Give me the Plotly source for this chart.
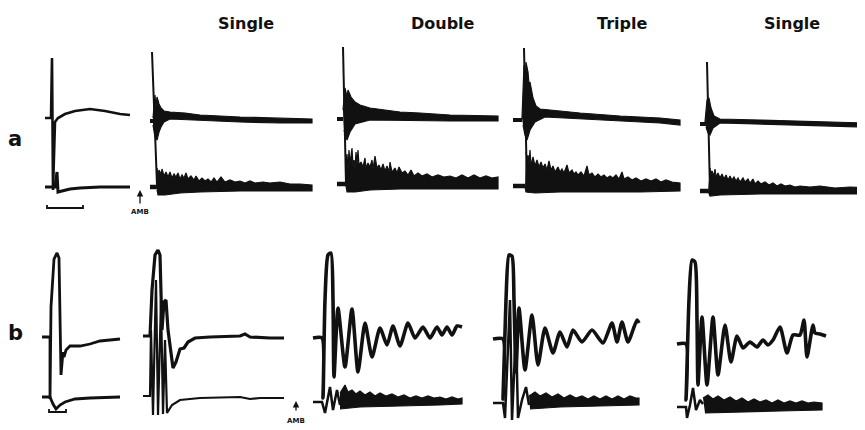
import plotly.graph_objects as go

# page places the figure 8 px from the window's top-left corner
PAGE_OFF = 8
W, H = 865 - PAGE_OFF, 430 - PAGE_OFF

# ---------------- data (time in sweep units from panel start, deflection in arbitrary units, + = up) ----
TITLES = ["Single", "Double", "Triple", "Single"]
ROW_LABELS = ["a", "b"]
ARROW_LABEL = "AMB"

# --- row a, panel 1 (control) ---
A1_UP = [(5, 0), (11, 0), (12, 60), (13, -72), (15, -4), (18, 0), (25, 4), (35, 7), (50, 9),
         (65, 7), (80, 4), (90, 3)]
A1_LO = [(5, 0), (15, 0), (17, 15), (18, -5), (22, -4), (30, -2), (40, -1), (60, 0), (90, 0)]
A1_BAR = [(7, -18), (7, -21), (43, -21), (43, -18)]

# --- row a, panel 2 (Single) ---
A2_TICK_UP = [(5, 0), (9, 0)]
A2_SPIKE = [(7, 69), (12, -64)]
A2_UP_TOP = [(8, 3), (10, 26), (11, 14), (12, 24), (14, 17), (16, 13), (19, 10), (25, 9), (40, 8), (55, 6),
             (95, 4), (135, 3), (167, 2)]
A2_UP_BOT = [(167, -2), (135, -2), (95, -1), (55, 1), (25, 2), (19, -1), (16, -6), (14, -11),
             (12, -19), (10, -16), (8, -4)]
A2_TICK_LO = [(5, 0), (12, 0)]
A2_LO_TOP = [(12, 19), (13, 12), (14, 17), (16, 13), (17, 18), (19, 11), (21, 15), (23, 10), (25, 15),
             (27, 9), (29, 13), (31, 10), (33, 14), (35, 8), (37, 12), (39, 9), (41, 14), (43, 8),
             (46, 11), (49, 7), (51, 11), (54, 6), (57, 9), (60, 6), (63, 8), (66, 5), (69, 9),
             (72, 5), (76, 10), (80, 5), (85, 7), (90, 5), (95, 6), (100, 4), (105, 6), (110, 4),
             (118, 5), (125, 4), (135, 5), (145, 3), (155, 3), (167, 2)]
A2_LO_BOT = [(167, -4), (135, -4), (95, -4), (55, -5), (35, -6), (20, -8), (13, -8), (12, -3)]

# --- row a, panel 3 (Double) ---
A3_TICK_UP = [(5, 0), (11, 0)]
A3_SPIKE = [(11, 72), (14, -65)]
A3_UP_TOP = [(11, 9), (13, 31), (15, 22), (16, 29), (19, 22), (23, 17), (28, 14), (38, 11), (53, 9),
             (68, 7), (88, 6), (118, 4), (166, 3)]
A3_UP_BOT = [(166, -2), (118, -2), (68, -1), (38, -1), (23, -5), (18, -13), (15, -21), (12, -11)]
A3_TICK_LO = [(5, 0), (14, 0)]
A3_LO_TOP = [(14, 24), (15, 30), (16, 14), (17, 34), (18, 20), (19, 28), (20, 36), (21, 18), (22, 24),
             (23, 16), (24, 32), (25, 20), (26, 34), (27, 19), (29, 22), (31, 17), (33, 26), (34, 16),
             (36, 21), (38, 17), (40, 24), (41, 15), (43, 28), (45, 16), (47, 19), (49, 14), (51, 20),
             (53, 13), (55, 18), (57, 12), (58, 22), (60, 12), (63, 16), (65, 11), (67, 17), (70, 11),
             (73, 13), (76, 9), (79, 14), (82, 8), (86, 11), (90, 8), (95, 10), (100, 7), (106, 9),
             (112, 7), (118, 8), (124, 6), (130, 9), (136, 6), (142, 9), (148, 6), (154, 8), (160, 6),
             (166, 7)]
A3_LO_BOT = [(166, -5), (118, -5), (68, -5), (38, -6), (23, -8), (15, -8), (14, -2)]

# --- row a, panel 4 (Triple) ---
A4_TICK_UP = [(5, 0), (14, 0)]
A4_SPIKE = [(16, 72), (19, -66)]
A4_UP_TOP = [(14, 2), (16, 55), (17, 40), (18, 58), (20, 48), (21, 36), (22, 38), (25, 22), (28, 14),
             (32, 11), (52, 9), (72, 7), (112, 4), (152, 2), (172, 0)]
A4_UP_BOT = [(172, -5), (152, -3), (112, -1), (72, 1), (37, 3), (27, -2), (22, -10), (19, -20),
             (17, -15), (15, -5)]
A4_TICK_LO = [(5, 0), (17, 0)]
A4_LO_TOP = [(18, 34), (19, 26), (20, 31), (21, 22), (22, 36), (23, 20), (25, 29), (27, 20), (29, 26),
             (31, 19), (33, 24), (35, 18), (37, 22), (39, 16), (41, 25), (43, 16), (45, 20), (47, 14),
             (50, 19), (52, 14), (54, 17), (56, 13), (59, 21), (61, 13), (64, 16), (66, 12), (68, 14),
             (70, 11), (73, 14), (76, 10), (79, 20), (81, 11), (84, 13), (87, 9), (90, 12), (93, 9),
             (96, 11), (99, 8), (102, 10), (105, 8), (108, 11), (111, 7), (114, 14), (116, 7),
             (120, 9), (124, 6), (128, 8), (133, 5), (138, 7), (143, 5), (148, 7), (153, 4), (158, 6),
             (164, 4), (172, 3)]
A4_LO_BOT = [(172, -5), (132, -6), (92, -6), (52, -6), (27, -7), (18, -6), (17, -1)]

# --- row a, panel 5 (Single) ---
A5_TICK_UP = [(5, 0), (11, 0)]
A5_SPIKE = [(12, 62), (15, -67)]
A5_UP_TOP = [(10, 2), (12, 24), (14, 26), (16, 16), (19, 8), (25, 5), (65, 4), (105, 3), (170, 1)]
A5_UP_BOT = [(170, -3), (105, -1), (65, 0), (25, 1), (18, -4), (15, -11), (13, -9), (11, -3)]
A5_TICK_LO = [(5, 0), (13, 0)]
A5_LO_TOP = [(15, 23), (16, 17), (17, 20), (19, 15), (20, 22), (21, 14), (23, 18), (25, 13), (27, 17),
             (29, 12), (31, 16), (33, 11), (35, 15), (37, 11), (39, 14), (41, 10), (43, 13), (45, 9),
             (48, 13), (50, 9), (53, 12), (55, 8), (58, 12), (60, 7), (63, 10), (66, 7), (70, 9),
             (74, 6), (78, 8), (82, 5), (86, 7), (90, 5), (95, 6), (100, 4), (105, 5), (115, 4),
             (125, 5), (140, 3), (155, 4), (170, 3)]
A5_LO_BOT = [(170, -3), (125, -3), (65, -3), (25, -4), (15, -5), (13, 0)]

# --- row b, panel 1 (control) ---
B1_UP = [(4, 0), (12, 0), (12, -62), (13, 30), (16, 78), (19, 84), (21, 79), (22, 30), (23, -38),
         (25, -15), (26, -20), (28, -13), (32, -9), (42, -9), (52, -7), (62, -4), (72, -3), (82, -2)]
B1_LO = [(4, 0), (12, 0), (15, -7), (18, -12), (20, -10), (22, -8), (27, -5), (37, -2), (52, -1),
         (82, 0)]
B1_BAR = [(11, -12), (11, -15), (28, -15), (28, -12)]

# --- row b, panel 2 (Single) ---
B2_UP = [(3, 0), (10, 0), (12, 46), (15, 81), (18, 86), (20, 81), (22, 6), (24, 34), (26, 36), (28, 6),
         (33, -32), (36, -26), (40, -13), (44, -12), (48, -6), (55, -2), (70, -1), (100, 0), (105, 2),
         (110, -1), (130, -2), (144, -2)]
B2_LO = [(3, 0), (10, 0), (11, 66), (13, -19), (16, 116), (18, -19), (21, 96), (23, -18), (25, 56),
         (27, -17), (32, -9), (40, -4), (60, -2), (100, -1), (110, -3), (120, -2), (144, -2)]

# --- row b, panel 3 (Double) ---
B3_UP = [(3, 0), (12, 0), (13, -60), (15, 38), (18, 83), (21, 85), (23, 38), (24, -39), (28, 30),
         (35, -29), (42, 29), (48, -34), (55, 15), (62, -19), (70, 10), (77, -7), (83, 12), (90, -8),
         (98, 15), (105, 0), (113, 11), (120, 0), (127, 11), (132, 3), (137, 11), (142, 3), (147, 12),
         (152, 11)]
B3_LO = [(3, 0), (12, 0), (15, -11), (20, 15), (23, -8), (27, 12), (30, -3)]
B3_LO_TOP = [(30, 9), (35, 17), (38, 10), (42, 12), (46, 8), (50, 11), (55, 7), (60, 10), (65, 6),
             (70, 9), (76, 6), (82, 8), (88, 5), (94, 7), (100, 4), (106, 6), (112, 4), (118, 6),
             (124, 4), (130, 5), (136, 3), (142, 5), (148, 3), (152, 4)]
B3_LO_BOT = [(152, -2), (130, -3), (90, -4), (50, -5), (30, -7)]

# --- row b, panel 4 (Triple) ---
B4_UP = [(3, 0), (13, 0), (13, -60), (16, 39), (19, 84), (22, 83), (24, 39), (26, -33), (29, 31),
         (35, -31), (42, 24), (48, -26), (55, 11), (63, -14), (70, 7), (77, -8), (83, 9), (92, -3),
         (102, 9), (113, -4), (122, 16), (127, -3), (132, 17), (138, -3), (147, 19), (149, 16)]
B4_LO = [(3, 0), (13, 0), (15, -15), (20, 103), (22, -17), (26, 73), (28, -15), (32, 3), (36, 16),
         (39, -2)]
B4_LO_TOP = [(39, 7), (45, 11), (50, 7), (56, 10), (62, 6), (68, 9), (74, 5), (80, 8), (86, 5), (92, 7),
             (98, 4), (104, 7), (110, 4), (116, 7), (122, 4), (128, 7), (134, 4), (140, 7), (146, 5),
             (149, 5)]
B4_LO_BOT = [(149, -2), (110, -3), (70, -4), (40, -6)]

# --- row b, panel 5 (Single) ---
B5_UP = [(3, 0), (12, 0), (12, -56), (15, 44), (18, 84), (21, 82), (23, 24), (24, -41), (28, 27),
         (33, -41), (39, 27), (44, -31), (51, 19), (57, -18), (63, 8), (69, -4), (76, 2), (83, -3),
         (89, 4), (94, -1), (99, 4), (106, 17), (113, -9), (119, 9), (126, 9), (130, 24), (133, -13),
         (139, 19), (141, 11), (146, 10), (152, 8)]
B5_LO = [(3, 0), (12, 0), (13, -11), (16, 2), (19, 19), (22, -3), (26, 7), (29, 3)]
B5_LO_TOP = [(29, 9), (34, 12), (39, 8), (44, 11), (50, 7), (56, 10), (62, 6), (68, 9), (74, 5), (80, 8),
             (86, 5), (92, 7), (98, 4), (104, 7), (110, 4), (116, 6), (122, 4), (128, 6), (134, 4),
             (140, 5), (148, 4)]
B5_LO_BOT = [(148, -3), (106, -4), (66, -5), (31, -6)]

# ---------------- layout geometry (window pixels): left, right, top, bottom, upper baseline, lower baseline
FRAMES = [
    (40, 135, 40, 215, 118, 187),
    (145, 315, 40, 215, 121, 187),
    (332, 502, 40, 215, 119, 184),
    (508, 685, 40, 215, 120, 186),
    (695, 865, 40, 215, 124, 191),
    (38, 125, 240, 425, 337, 397),
    (140, 290, 240, 425, 336, 396),
    (310, 467, 240, 425, 338, 402),
    (490, 645, 240, 425, 339, 403),
    (674, 830, 240, 425, 344, 407),
]
TITLE_X = [246, 443, 622, 792]
TITLE_Y = 24
ROW_LABEL_POS = [(15, 139), (15, 333)]

INK = "#111111"


def px(x):
    return (x - PAGE_OFF) / W


def py(y):
    return 1 - (y - PAGE_OFF) / H


fig = go.Figure()


def axis_names(panel, channel):
    xi = panel + 1
    yi = 2 * panel + 1 + channel
    return ("x" if xi == 1 else f"x{xi}"), ("y" if yi == 1 else f"y{yi}")


def add_line(panel, channel, pts, width=3.0, shape="linear"):
    xa, ya = axis_names(panel, channel)
    fig.add_trace(go.Scatter(x=[p[0] for p in pts], y=[p[1] for p in pts], mode="lines",
                             line=dict(color=INK, width=width, shape=shape, smoothing=0.6),
                             xaxis=xa, yaxis=ya, hoverinfo="skip", cliponaxis=False))


def add_band(panel, channel, top, bot):
    xa, ya = axis_names(panel, channel)
    pts = list(top) + list(bot)
    fig.add_trace(go.Scatter(x=[p[0] for p in pts], y=[p[1] for p in pts], mode="lines",
                             fill="toself", fillcolor=INK, line=dict(color=INK, width=1.2),
                             xaxis=xa, yaxis=ya, hoverinfo="skip"))


# row a
add_line(0, 0, A1_UP, 2.6)
add_line(0, 1, A1_LO, 3.0)
add_line(0, 1, A1_BAR, 1.8)

for p, (tu, sp, ut, ub, tl, lt, lb) in enumerate([
        (A2_TICK_UP, A2_SPIKE, A2_UP_TOP, A2_UP_BOT, A2_TICK_LO, A2_LO_TOP, A2_LO_BOT),
        (A3_TICK_UP, A3_SPIKE, A3_UP_TOP, A3_UP_BOT, A3_TICK_LO, A3_LO_TOP, A3_LO_BOT),
        (A4_TICK_UP, A4_SPIKE, A4_UP_TOP, A4_UP_BOT, A4_TICK_LO, A4_LO_TOP, A4_LO_BOT),
        (A5_TICK_UP, A5_SPIKE, A5_UP_TOP, A5_UP_BOT, A5_TICK_LO, A5_LO_TOP, A5_LO_BOT)], start=1):
    add_line(p, 0, tu, 4.0)
    add_line(p, 0, sp, 2.0)
    add_band(p, 0, ut, ub)
    add_line(p, 1, tl, 4.5)
    add_band(p, 1, lt, lb)

# row b
add_line(5, 0, B1_UP, 2.8)
add_line(5, 1, B1_LO, 2.8)
add_line(5, 1, B1_BAR, 1.8)
add_line(6, 0, B2_UP, 3.2)
add_line(6, 1, B2_LO, 2.2)
add_line(7, 0, B3_UP, 3.6, "spline")
add_line(7, 1, B3_LO, 2.5)
add_band(7, 1, B3_LO_TOP, B3_LO_BOT)
add_line(8, 0, B4_UP, 3.6, "spline")
add_line(8, 1, B4_LO, 2.5)
add_band(8, 1, B4_LO_TOP, B4_LO_BOT)
add_line(9, 0, B5_UP, 3.6, "spline")
add_line(9, 1, B5_LO, 2.5)
add_band(9, 1, B5_LO_TOP, B5_LO_BOT)

layout = dict(width=W, height=H, margin=dict(l=0, r=0, t=0, b=0), showlegend=False,
              paper_bgcolor="white", plot_bgcolor="rgba(0,0,0,0)")
for i, (x0, x1, top, bot, yu, yl) in enumerate(FRAMES):
    xi = i + 1
    yu_i, yl_i = 2 * i + 1, 2 * i + 2
    xkey = "xaxis" if xi == 1 else f"xaxis{xi}"
    layout[xkey] = dict(domain=[max(0, px(x0)), min(1, px(x1))], range=[0, min(x1, 865) - x0],
                        visible=False, anchor="y" if yu_i == 1 else f"y{yu_i}", fixedrange=True)
    ykey_u = "yaxis" if yu_i == 1 else f"yaxis{yu_i}"
    layout[ykey_u] = dict(domain=[py(bot), py(top)], range=[yu - bot, yu - top], visible=False,
                          anchor="x" if xi == 1 else f"x{xi}", fixedrange=True)
    layout[f"yaxis{yl_i}"] = dict(overlaying="y" if yu_i == 1 else f"y{yu_i}", range=[yl - bot, yl - top],
                                  visible=False, anchor="x" if xi == 1 else f"x{xi}", fixedrange=True)
fig.update_layout(**layout)

ann = []
for t, x in zip(TITLES, TITLE_X):
    ann.append(dict(text=f"<b>{t}</b>", x=px(x), y=py(TITLE_Y), xref="paper", yref="paper",
                    xanchor="center", yanchor="middle", showarrow=False,
                    font=dict(family="DejaVu Sans", size=16, color=INK)))
for lab, (x, y) in zip(ROW_LABELS, ROW_LABEL_POS):
    ann.append(dict(text=f"<b>{lab}</b>", x=px(x), y=py(y), xref="paper", yref="paper", showarrow=False,
                    xanchor="center", yanchor="middle",
                    font=dict(family="DejaVu Sans", size=21, color=INK)))
for (hx, hy, ty, ly) in [(140, 190, 205, 212), (296, 401, 412, 421)]:
    ann.append(dict(text="", x=px(hx), y=py(hy), ax=0, ay=ty - hy, xref="paper", yref="paper",
                    showarrow=True, arrowhead=2, arrowsize=1, arrowwidth=1.3, arrowcolor=INK))
    ann.append(dict(text=f"<b>{ARROW_LABEL}</b>", x=px(hx), y=py(ly), xref="paper", yref="paper",
                    xanchor="center", yanchor="middle", showarrow=False,
                    font=dict(family="DejaVu Sans", size=7, color=INK)))
fig.update_layout(annotations=ann)

fig.write_html("out.html")
